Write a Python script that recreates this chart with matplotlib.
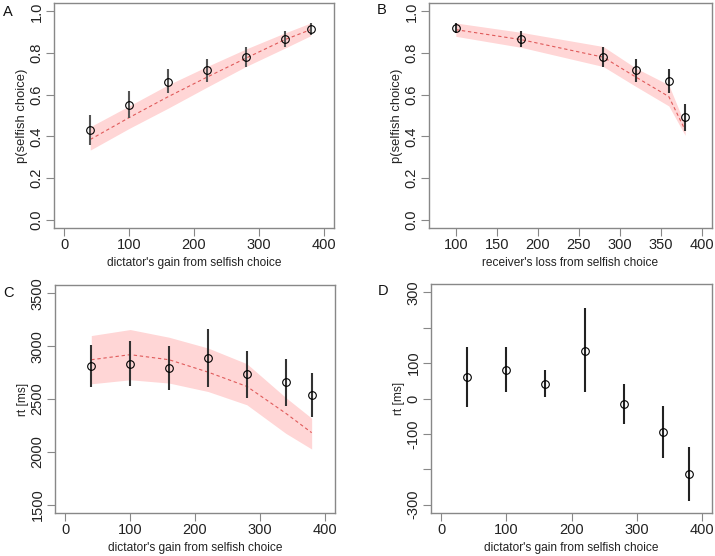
import matplotlib
matplotlib.use('Agg')
import matplotlib.pyplot as plt

plt.rcParams['font.family'] = ['Liberation Sans', 'DejaVu Sans']

# panel A: p(selfish) vs dictator's gain
gain = [40, 100, 160, 220, 280, 340, 380]
pA = [0.43, 0.55, 0.663, 0.719, 0.783, 0.868, 0.916]
pA_lo = [0.358, 0.486, 0.607, 0.663, 0.735, 0.828, 0.888]
pA_hi = [0.502, 0.62, 0.724, 0.77, 0.828, 0.908, 0.944]
modelA = [0.385, 0.49, 0.59, 0.684, 0.775, 0.864, 0.912]
bandA_lo = [0.334, 0.438, 0.535, 0.636, 0.735, 0.823, 0.883]
bandA_hi = [0.446, 0.546, 0.647, 0.735, 0.819, 0.896, 0.944]

# panel B: p(selfish) vs receiver's loss
loss = [100, 180, 280, 320, 360, 380]
pB = [0.92, 0.868, 0.783, 0.719, 0.666, 0.491]
pB_lo = [0.896, 0.828, 0.735, 0.663, 0.607, 0.425]
pB_hi = [0.944, 0.908, 0.828, 0.77, 0.724, 0.555]
modelB = [0.912, 0.864, 0.78, 0.684, 0.591, 0.43]
bandB_lo = [0.88, 0.827, 0.735, 0.639, 0.546, 0.405]
bandB_hi = [0.944, 0.899, 0.831, 0.727, 0.647, 0.455]

# panel C: rt vs dictator's gain
rt = [2809, 2831, 2793, 2888, 2736, 2657, 2540]
rt_lo = [2612, 2619, 2587, 2612, 2514, 2429, 2334]
rt_hi = [3012, 3047, 3002, 3164, 2958, 2882, 2742]
modelC = [2872, 2920, 2872, 2755, 2619, 2365, 2181]
bandC_lo = [2644, 2682, 2651, 2571, 2445, 2175, 2026]
bandC_hi = [3101, 3158, 3085, 2983, 2834, 2514, 2318]

# panel D: rt difference vs dictator's gain
drt = [61, 82, 41, 135, -16, -94, -214]
drt_lo = [-24, 18, 4, 18, -73, -167, -291]
drt_hi = [146, 145, 80, 255, 41, -20, -136]

W, H = 715, 556
BAND = '#ffd6d6'
LINE = '#e05a5a'
BOX = '#888888'


def make_ax(fig, left, top, right, bottom):
    return fig.add_axes([left / W, 1 - bottom / H, (right - left) / W, (bottom - top) / H])


def style(ax, xlim, ylim, xticks, yticks, yticklabels, xlabel, ylabel, ylabel_size=8.6):
    # R style 4% padding
    dx = (xlim[1] - xlim[0]) * 0.04
    dy = (ylim[1] - ylim[0]) * 0.04
    ax.set_xlim(xlim[0] - dx, xlim[1] + dx)
    ax.set_ylim(ylim[0] - dy, ylim[1] + dy)
    ax.set_xticks(xticks)
    ax.set_xticklabels([str(t) for t in xticks])
    ax.set_yticks(yticks)
    ax.set_yticklabels(yticklabels, rotation=90, va='center')
    for s in ax.spines.values():
        s.set_color(BOX)
        s.set_linewidth(1.0)
    ax.tick_params(direction='out', length=5.5, width=0.8, color=BOX,
                   labelsize=10.5, labelcolor='#222222', pad=2)
    ax.set_xlabel(xlabel, fontsize=8.6, color='#222222', labelpad=3)
    ax.set_ylabel(ylabel, fontsize=ylabel_size, color='#222222', labelpad=1)


def points(ax, x, y, lo, hi, ecolor='#333333'):
    ax.vlines(x, lo, hi, color=ecolor, lw=1.5, zorder=3)
    ax.plot(x, y, 'o', ms=5.5, mfc='none', mec='black', mew=0.8, zorder=4)


def model(ax, x, m, lo, hi):
    ax.fill_between(x, lo, hi, color=BAND, lw=0, zorder=1)
    ax.plot(x, m, color=LINE, lw=0.8, dashes=(3, 2.5), zorder=2)


fig = plt.figure(figsize=(W / 100, H / 100), dpi=100)

pticks = [0.0, 0.2, 0.4, 0.6, 0.8, 1.0]
plabels = ['0.0', '0.2', '0.4', '0.6', '0.8', '1.0']

axA = make_ax(fig, 54, 3, 334, 228)
model(axA, gain, modelA, bandA_lo, bandA_hi)
points(axA, gain, pA, pA_lo, pA_hi, ecolor='#555555')
style(axA, (0, 400), (0, 1), [0, 100, 200, 300, 400], pticks, plabels,
      "dictator's gain from selfish choice", 'p(selfish choice)', ylabel_size=9.4)

axB = make_ax(fig, 429, 3, 712, 228)
model(axB, loss, modelB, bandB_lo, bandB_hi)
points(axB, loss, pB, pB_lo, pB_hi)
style(axB, (80, 400), (0, 1), [100, 150, 200, 250, 300, 350, 400], pticks, plabels,
      "receiver's loss from selfish choice", 'p(selfish choice)', ylabel_size=9.4)

axC = make_ax(fig, 55, 285, 335, 513)
model(axC, gain, modelC, bandC_lo, bandC_hi)
points(axC, gain, rt, rt_lo, rt_hi)
style(axC, (0, 400), (1500, 3500), [0, 100, 200, 300, 400],
      [1500, 2000, 2500, 3000, 3500], ['1500', '2000', '2500', '3000', '3500'],
      "dictator's gain from selfish choice", 'rt [ms]')

axD = make_ax(fig, 431, 284, 712, 513)
points(axD, gain, drt, drt_lo, drt_hi, ecolor='#222222')
style(axD, (0, 400), (-300, 300), [0, 100, 200, 300, 400],
      [-300, -200, -100, 0, 100, 200, 300], ['-300', '', '-100', '0', '100', '', '300'],
      "dictator's gain from selfish choice", 'rt [ms]')

for label, x, y in [('A', 8, 12), ('B', 382, 10), ('C', 8, 293), ('D', 383, 291)]:
    fig.text(x / W, 1 - y / H, label, fontsize=10.5, ha='center', va='center', color='#111111')

fig.savefig('out.png', dpi=100)
